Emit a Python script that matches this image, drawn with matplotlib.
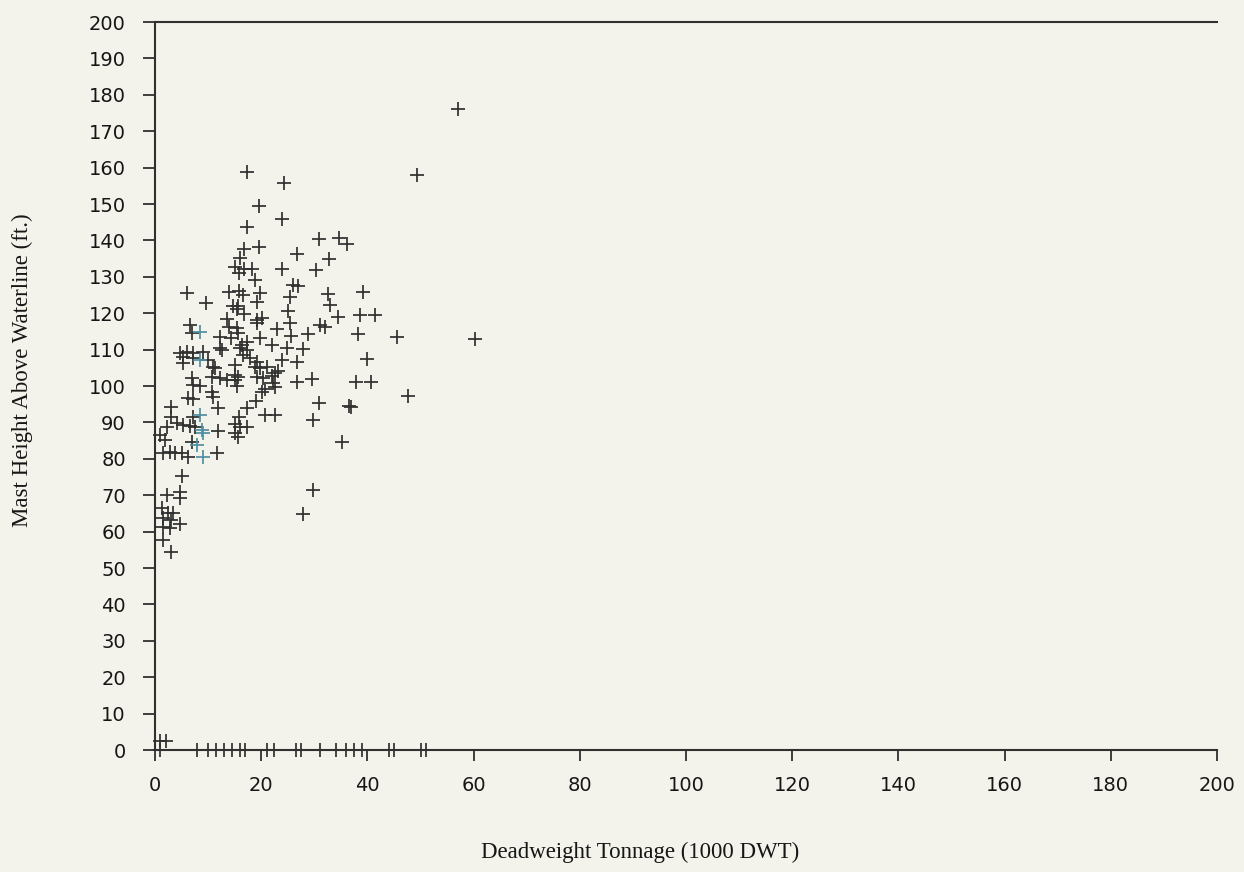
import matplotlib
matplotlib.use("Agg")
import matplotlib.pyplot as plt

# ---- data ----
dwt = [17.4, 24.2, 19.6, 23.9, 17.4, 30.9, 34.7, 36.2, 16.8, 19.6, 26.8, 16.1, 32.8,
       15.1, 16.8, 18.2, 23.9, 30.3, 15.9, 18.9, 26.0, 27.0, 6.1, 14.0, 15.9, 16.6,
       19.8, 25.4, 32.6,
       49.3, 39.1, 38.7, 41.4, 38.2, 45.5, 60.3, 39.9, 37.9, 40.7, 47.7, 36.9, 57.0,
       19.2, 33.0, 9.6, 14.7, 15.7, 25.1, 15.5, 34.5, 16.8, 13.6, 19.3, 20.1, 19.2,
       25.4, 31.1, 32.0, 6.5, 6.9, 14.0, 15.4, 15.7, 22.9, 12.2, 14.4, 19.8, 25.7,
       28.9, 22.0, 17.3, 16.3, 12.2, 12.6, 16.0, 17.3, 24.8, 27.9, 4.7, 6.0, 7.2,
       9.1, 5.3, 7.2, 16.6, 17.9, 19.2, 10.0, 23.9, 26.7, 5.3, 15.1, 11.0, 11.3,
       18.8, 19.8, 21.0, 23.2, 15.1, 15.7, 19.2, 20.4, 22.0, 22.6, 6.9, 10.7, 12.2,
       13.5, 15.1, 15.4, 26.7, 29.5, 7.2, 8.5, 22.3, 22.6, 20.7, 20.1, 10.7, 11.0,
       6.3, 7.2, 19.0, 30.8, 36.6, 3.1, 11.9, 17.3, 7.2, 20.7, 22.6, 15.9, 3.1,
       29.8, 4.1, 5.3, 6.6, 7.5, 15.1, 16.0, 17.3, 2.2, 11.9, 0.9, 15.1, 15.7,
       1.9, 6.9, 35.2, 1.6, 2.8, 3.8, 5.0, 6.3, 11.6, 5.0, 2.2, 4.7, 4.7, 29.8,
       27.9, 1.3, 2.5, 3.4, 1.6, 3.1, 4.7, 1.6, 2.8, 1.6, 3.1]
mast = [158.7, 155.7, 149.5, 145.8, 143.6, 140.3, 140.6, 139.0, 137.6, 138.1, 136.2, 135.3, 134.8,
        132.7, 132.2, 132.1, 132.1, 131.9, 131.0, 129.1, 127.7, 127.6, 125.6, 125.9, 126.2, 125.0,
        125.5, 124.4, 125.3,
        158.0, 125.9, 119.5, 119.5, 114.3, 113.5, 112.8, 107.3, 101.2, 101.2, 97.3, 94.3, 176.0,
        123.2, 122.3, 122.7, 122.0, 122.0, 120.7, 121.1, 119.0, 119.8, 118.3, 118.1, 118.6, 117.4,
        117.4, 116.8, 116.1, 116.8, 114.5, 116.3, 115.8, 114.5, 115.6, 113.5, 113.1, 113.1, 113.7,
        114.3, 111.3, 112.2, 111.3, 110.4, 109.9, 110.4, 109.9, 110.4, 110.1, 109.0, 109.4, 109.2,
        109.4, 108.0, 107.6, 108.5, 107.6, 106.7, 107.1, 107.1, 106.7, 106.2, 105.8, 105.3, 104.9,
        105.3, 104.9, 105.1, 104.2, 103.0, 102.4, 102.6, 102.1, 102.7, 103.5, 102.1, 102.6, 102.1,
        101.6, 101.6, 100.0, 101.2, 101.8, 100.3, 100.0, 100.7, 99.6, 99.1, 98.4, 98.4, 97.1,
        96.6, 96.3, 96.0, 95.4, 94.5, 94.3, 93.9, 93.9, 91.6, 92.0, 92.0, 91.4, 91.6,
        90.7, 89.7, 89.3, 89.0, 88.8, 89.6, 88.8, 88.8, 88.7, 87.7, 86.5, 87.2, 86.1,
        85.2, 84.7, 84.7, 81.5, 82.0, 81.5, 81.5, 80.6, 81.5, 75.3, 70.1, 71.0, 69.1, 71.4,
        64.8, 66.4, 65.0, 65.2, 63.6, 63.2, 62.1, 61.2, 60.9, 57.7, 54.5]

# marks printed with a bluish tint in the scan
dwt_tint = [8.5, 8.5, 8.5, 8.8, 9.1, 7.9, 9.1]
mast_tint = [114.9, 107.1, 92.0, 87.9, 87.0, 83.8, 80.6]

# ships with no mast height recorded (plotted on the axis)
dwt_zero = [1.0, 1.0, 2.0, 8.0, 10.0, 11.5, 13.0, 14.5, 16.0, 17.0, 21.0, 22.5, 26.5,
            27.5, 31.0, 34.0, 36.0, 37.5, 39.0, 44.0, 45.0, 50.0, 51.0]
mast_zero = [0.0, 2.5, 2.5, 0, 0, 0, 0, 0, 0, 0, 0, 0, 0,
             0, 0, 0, 0, 0, 0, 0, 0, 0, 0]

x_ticks = list(range(0, 201, 20))
y_ticks = list(range(0, 201, 10))

# ---- figure ----
W, H = 1244, 872
fig = plt.figure(figsize=(W / 100, H / 100), dpi=100)
paper = '#f3f3eb'
ink = '#303030'
fig.patch.set_facecolor(paper)
ax = fig.add_axes([155 / W, 1 - 750 / H, (1217 - 155) / W, (750 - 22) / H])
ax.set_facecolor(paper)

mk = dict(marker='+', linestyle='none', markersize=10, markeredgewidth=1.25, clip_on=False)
ax.plot(dwt, mast, color=ink, **mk)
ax.plot(dwt_tint, mast_tint, color='#4f8fa3', **mk)
ax.plot(dwt_zero, mast_zero, color=ink, **mk)

ax.set_xlim(0, 200)
ax.set_ylim(0, 200)
ax.set_xticks(x_ticks)
ax.set_yticks(y_ticks)

for s in ['left', 'bottom', 'top']:
    ax.spines[s].set_color(ink)
    ax.spines[s].set_linewidth(1.5)
ax.spines['right'].set_visible(False)

tickfont = 'DejaVu Sans'
ax.tick_params(axis='y', direction='out', length=9, width=1.3, color=ink, pad=12,
               labelsize=14, labelcolor='#161616')
ax.tick_params(axis='x', direction='out', length=8, width=1.3, color=ink, pad=11,
               labelsize=14, labelcolor='#161616')
for lab in ax.get_xticklabels() + ax.get_yticklabels():
    lab.set_fontfamily(tickfont)

serif = ['Liberation Serif', 'DejaVu Serif']
fig.text(640 / W, 1 - 852 / H, 'Deadweight Tonnage (1000 DWT)', ha='center', va='center',
         fontsize=16.5, family=serif, color='#161616')
fig.text(22 / W, 1 - 370 / H, 'Mast Height Above Waterline (ft.)', ha='center', va='center',
         rotation=90, fontsize=16.5, family=serif, color='#161616')

fig.savefig('out.png', dpi=100, facecolor=paper)
